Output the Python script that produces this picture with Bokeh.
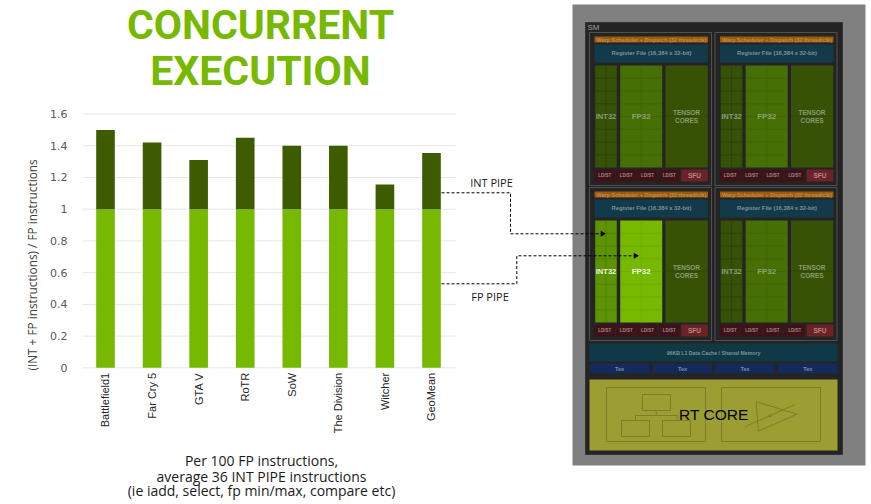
from math import pi
from bokeh.plotting import figure
from bokeh.models import Range1d, LinearAxis, FixedTicker
from bokeh.core.properties import value
from bokeh.embed import file_html
from bokeh.resources import INLINE

# ---------- chart data ----------
games = ["Battlefield1", "Far Cry 5", "GTA V", "RoTR", "SoW", "The Division", "Witcher", "GeoMean"]
fp_pipe = [1, 1, 1, 1, 1, 1, 1, 1]
total_pipe = [1.50, 1.42, 1.31, 1.45, 1.40, 1.40, 1.155, 1.355]
y_ticks = [0, 0.2, 0.4, 0.6, 0.8, 1, 1.2, 1.4, 1.6]
y_tick_labels = ["0", "0.2", "0.4", "0.6", "0.8", "1", "1.2", "1.4", "1.6"]
title_lines = ["CONCURRENT", "EXECUTION"]
caption_lines = ["Per 100 FP instructions,", "average 36 INT PIPE instructions",
                 "(ie iadd, select, fp min/max, compare etc)"]
y_title = "(INT + FP instructions) / FP instructions"

GREEN = "#76b900"
DARK_GREEN = "#3d5c00"

W, H = 871, 504
p = figure(width=W, height=H, output_backend="svg", toolbar_location=None,
           x_range=Range1d(0, W), y_range=Range1d(H, 0),
           x_axis_location=None, y_axis_location=None, min_border=0,
           background_fill_color="white", border_fill_color="white")
p.outline_line_color = None
p.xgrid.visible = False
p.ygrid.visible = False

# Chart scales: mapped from where the plot area sits on the page.
X0, DX = 105.0, 46.57     # first category centre, category spacing
Y0, DY = 367.3, 158.6     # value 0 pixel, pixels per unit
p.extra_x_ranges["games"] = Range1d((0 - X0) / DX, (W - X0) / DX)
p.extra_y_ranges["vals"] = Range1d((Y0 - H) / DY, Y0 / DY)

pos = list(range(len(games)))
GRID_L, GRID_R = (82 - X0) / DX, (455 - X0) / DX
p.segment(x0=[GRID_L] * len(y_ticks), x1=[GRID_R] * len(y_ticks), y0=y_ticks, y1=y_ticks,
          x_range_name="games", y_range_name="vals", line_color="#e6e6e6", line_width=1)
p.vbar(x=pos, bottom=0, top=fp_pipe, width=0.4, x_range_name="games", y_range_name="vals",
       fill_color=GREEN, line_color=None)
p.vbar(x=pos, bottom=fp_pipe, top=total_pipe, width=0.4, x_range_name="games", y_range_name="vals",
       fill_color=DARK_GREEN, line_color=None)

yaxis = LinearAxis(x_range_name="games", y_range_name="vals", fixed_location=GRID_L,
                   ticker=FixedTicker(ticks=y_ticks),
                   major_label_overrides={t: l for t, l in zip(y_ticks, y_tick_labels)})
yaxis.axis_line_color = None
yaxis.major_tick_line_color = None
yaxis.minor_tick_line_color = None
yaxis.major_label_standoff = 9
yaxis.major_label_text_font = "DejaVu Sans"
yaxis.major_label_text_font_size = "11px"
yaxis.major_label_text_color = "#595959"
p.add_layout(yaxis, "left")

xaxis = LinearAxis(x_range_name="games", y_range_name="vals", fixed_location=0,
                   ticker=FixedTicker(ticks=pos),
                   major_label_overrides={i: g for i, g in enumerate(games)})
xaxis.axis_line_color = None
xaxis.major_tick_line_color = None
xaxis.minor_tick_line_color = None
xaxis.major_label_standoff = -1
xaxis.major_label_orientation = pi / 2
xaxis.major_label_text_font = "Liberation Sans"
xaxis.major_label_text_font_size = "11px"
xaxis.major_label_text_color = "#262626"
p.add_layout(xaxis, "below")


def txt(x, y, s, font, size, color, style="normal", angle=0.0, align="center"):
    p.text(x=[x], y=[y], text=[s], text_font=value(font), text_font_size=size,
           text_font_style=style, text_color=color, text_align=align,
           text_baseline="middle", angle=angle)


# ---------- left texts ----------
txt(260, 24, title_lines[0], "Roboto", "41px", GREEN, "bold")
txt(260, 70, title_lines[1], "Roboto", "41px", GREEN, "bold")
txt(31.5, 264.5, y_title, "Open Sans", "11.8px", "#404040", angle=pi / 2)
for yy, line in zip([460, 475.5, 490], caption_lines):
    txt(261, yy, line, "Open Sans", "14px", "#1a1a1a")


# ---------- die diagram ----------
def box(l, t, r, b, color, line=None):
    p.quad(left=[l], right=[r], top=[t], bottom=[b], fill_color=color, line_color=line, line_width=1)


def lines(xs, ys, color, width=1.0, dash="solid"):
    p.multi_line(xs=xs, ys=ys, line_color=color, line_width=width, line_dash=dash)


box(572, 4, 865, 465, "#808080")
box(585, 22, 842, 454, "#242424", "#333333")
txt(587, 26.5, "SM", "Liberation Sans", "8px", "#a0a0a0", align="left")


def cell(dx, dy, lit):
    box(589 + dx, 32 + dy, 711 + dx, 185 + dy, "#242424", "#505050")
    box(594 + dx, 36 + dy, 707.5 + dx, 42 + dy, "#9c5a0c")
    txt(651 + dx, 39 + dy, "Warp Scheduler + Dispatch (32 thread/clk)", "Liberation Sans", "5.5px",
        "#c08a50", "bold")
    box(594 + dx, 44 + dy, 707.5 + dx, 62 + dy, "#123a4a")
    txt(651 + dx, 52.5 + dy, "Register File (16,384 x 32-bit)", "Liberation Sans", "5.8px", "#7f9298", "bold")
    top, bot = 65 + dy, 167 + dy
    int_col = "#5c9404" if lit else "#355206"
    fp_col = GREEN if lit else "#466f06"
    ten_col = "#385205"
    box(594.7 + dx, top, 616.3 + dx, bot, int_col)
    box(619.7 + dx, top, 661.7 + dx, bot, fp_col)
    box(665 + dx, top, 707.3 + dx, bot, ten_col)
    # core grid lines
    rows = [top + (bot - top) * k / 8 for k in range(1, 8)]
    lines([[594.7 + dx, 616.3 + dx]] * 7, [[r, r] for r in rows], "#4a7a04" if lit else "#2a4005", 0.7)
    lines([[605.5 + dx, 605.5 + dx]], [[top, bot]], "#4a7a04" if lit else "#2a4005", 0.7)
    lines([[619.7 + dx, 661.7 + dx]] * 7, [[r, r] for r in rows], "#69a602" if lit else "#3f6405", 0.7)
    lines([[640.7 + dx, 640.7 + dx]], [[top, bot]], "#69a602" if lit else "#3f6405", 0.7)
    lines([[665 + dx, 707.3 + dx]], [[115.5 + dy, 115.5 + dy]], "#2e4504", 0.7)
    txt(605.5 + dx, 115.5 + dy, "INT32", "Liberation Sans", "7.6px", "#f0f6e0" if lit else "#8c9a80", "bold")
    txt(640.7 + dx, 115.5 + dy, "FP32", "Liberation Sans", "8px", "#f0f6e0" if lit else "#8fa070", "bold")
    txt(686 + dx, 111.5 + dy, "TENSOR", "Liberation Sans", "6.5px", "#8a9a70", "bold")
    txt(686 + dx, 119.5 + dy, "CORES", "Liberation Sans", "6.5px", "#8a9a70", "bold")
    for l, r in [(594, 614.3), (615.7, 636), (637, 657), (658.7, 678.7)]:
        box(l + dx, 169 + dy, r + dx, 181 + dy, "#3f1218")
        txt((l + r) / 2 + dx, 175 + dy, "LD/ST", "Liberation Sans", "4.5px", "#a08a8a", "bold")
    box(680.7 + dx, 169 + dy, 707.3 + dx, 181 + dy, "#6d2228")
    txt(694 + dx, 175 + dy, "SFU", "Liberation Sans", "6.5px", "#b08a8a", "bold")


cell(0, 0, False)
cell(125.5, 0, False)
cell(0, 155, True)
cell(125.5, 155, False)

box(589, 343, 837, 361, "#0f3a45")
txt(713, 352, "96KB L1 Data Cache / Shared Memory", "Liberation Sans", "5.2px", "#7f9298", "bold")
for l, r in [(589.3, 648.7), (652.3, 711.7), (714.7, 774.3), (777.3, 837.3)]:
    box(l, 363, r, 373, "#142a5a")
    txt((l + r) / 2, 368, "Tex", "Liberation Sans", "5.5px", "#7f8a9a", "bold")

box(589, 379, 837, 450, "#9c9e34")
OL = "#7d7f28"
for l, t, r, b in [(606, 387, 705, 441), (721, 387, 820, 441), (642, 394, 670, 410),
                   (621, 420, 649, 436), (662, 420, 690, 436)]:
    p.quad(left=[l], right=[r], top=[t], bottom=[b], fill_color=None, line_color=OL, line_width=1)
lines([[655.7, 655.7], [635, 676.7], [635, 635], [676.7, 676.7]],
      [[410, 415], [415, 415], [415, 420], [415, 420]], OL)
p.patch(x=[755.7, 796.7, 757.7, 755.7], y=[401.3, 413.7, 430.7, 401.3], fill_color=None, line_color=OL, line_width=1)
lines([[745, 794.7]], [[426, 404]], OL)
p.scatter(x=[769.3], y=[415.3], size=3, marker="circle", fill_color=OL, line_color=None)
txt(713.3, 413.5, "RT CORE", "Liberation Sans", "15.5px", "#000000")

# ---------- pipe callouts ----------
txt(491, 182, "INT PIPE", "Open Sans", "11px", "#1a1a1a")
txt(489.5, 296, "FP PIPE", "Open Sans", "11px", "#1a1a1a")
lines([[441, 510, 510, 602]], [[192.3, 192.3, 233.3, 233.3]], "#000000", dash="3 2")
lines([[441, 516.3, 516.3, 635]], [[283.3, 283.3, 255.3, 255.3]], "#000000", dash="3 2")
p.scatter(x=[602, 635], y=[233.3, 255.3], marker="triangle", size=6, angle=-pi / 2,
          fill_color="#000000", line_color=None)

open("out.html", "w").write(file_html(p, INLINE))
